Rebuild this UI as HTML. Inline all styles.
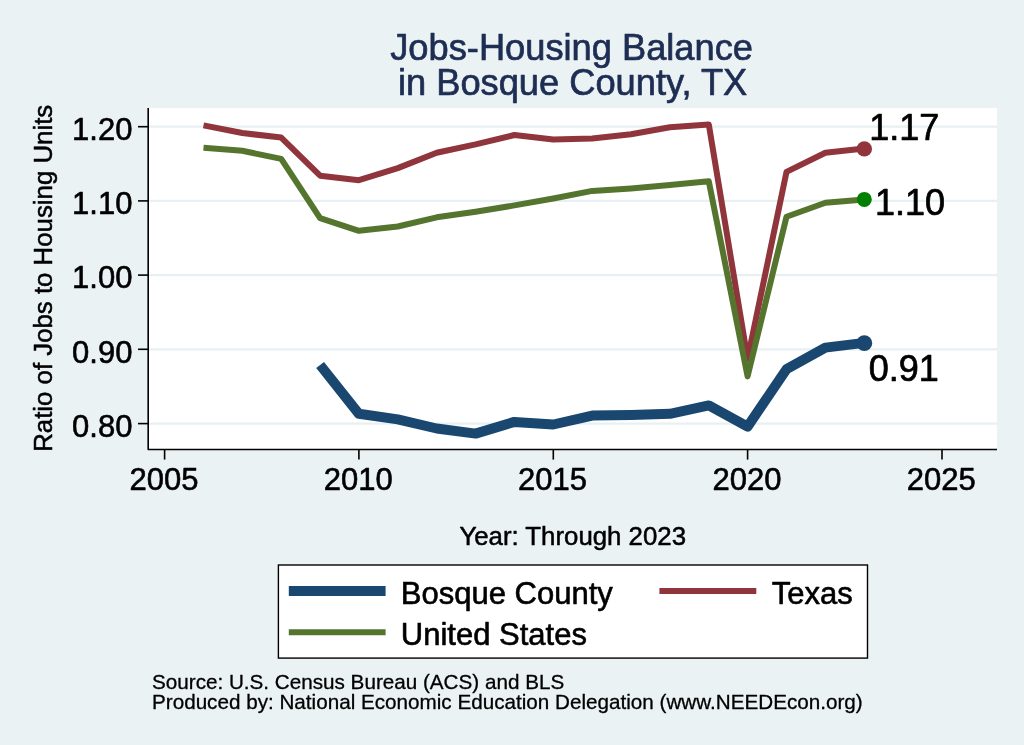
<!DOCTYPE html>
<html lang="en">
<head>
<meta charset="utf-8">
<title>Jobs-Housing Balance in Bosque County, TX</title>
<style>
html,body{margin:0;padding:0;background:#eaf2f3;}
body{width:1024px;height:745px;overflow:hidden;}
svg{display:block;}
text{font-family:"Liberation Sans",Arial,Helvetica,sans-serif;fill:#000;stroke:#000;stroke-width:0.7px;stroke-linejoin:round;}
.t{fill:#1e2d53;stroke:#1e2d53;font-size:36.25px;text-anchor:middle;}
.ax{font-size:31px;stroke-width:0.6px;}
.yl{text-anchor:end;}
.xl{text-anchor:middle;}
.at{font-size:25.8px;stroke-width:0.5px;text-anchor:middle;}
.ml{font-size:36px;}
.lg{font-size:31px;stroke-width:0.6px;}
.nt{font-size:20.66px;stroke-width:0.3px;}
</style>
</head>
<body>
<svg width="1024" height="745" viewBox="0 0 1024 745">
<rect x="0" y="0" width="1024" height="745" fill="#eaf2f3"/>
<!-- plot region -->
<rect x="148" y="108" width="849" height="342" fill="#ffffff"/>
<!-- gridlines -->
<g stroke="#e7f0f2" stroke-width="2.2">
<line x1="148" x2="997" y1="126.7" y2="126.7"/>
<line x1="148" x2="997" y1="200.9" y2="200.9"/>
<line x1="148" x2="997" y1="275.1" y2="275.1"/>
<line x1="148" x2="997" y1="349.3" y2="349.3"/>
<line x1="148" x2="997" y1="423.6" y2="423.6"/>
</g>
<!-- series -->
<g fill="none" stroke-linejoin="round">
<polyline id="bosque" stroke="#1a476f" stroke-width="10" points="320.1,365 358.9,413.8 397.8,419.4 436.7,428.5 475.6,433.6 514.4,421.9 553.3,424.5 592.2,415.6 631,415.1 669.9,413.8 708.8,405.4 747.6,426.6 786.5,369.2 825.4,347.6 864.3,342.9"/>
<polyline id="texas" stroke="#90353b" stroke-width="6" points="203.5,125.4 242.3,133 281.2,137.6 320.1,175.7 358.9,180.2 397.8,168.1 436.7,152.8 475.6,144.4 514.4,135 553.3,139.6 592.2,138.6 631,134.3 669.9,127.2 708.8,124.6 747.6,358.9 786.5,171.9 825.4,152.8 864.3,148.6"/>
<polyline id="us" stroke="#55752f" stroke-width="6" points="203.5,147.7 242.3,150.8 281.2,158.9 320.1,218.1 358.9,230.8 397.8,226.5 436.7,217.3 475.6,211.7 514.4,205.4 553.3,198.5 592.2,190.9 631,188.4 669.9,185.1 708.8,181.3 747.6,376.4 786.5,216.8 825.4,202.8 864.3,199.4"/>
</g>
<!-- markers -->
<circle cx="864.3" cy="343.2" r="7.9" fill="#1a476f"/>
<circle cx="864.3" cy="148.9" r="7.7" fill="#90353b"/>
<circle cx="864.3" cy="199.4" r="7.5" fill="#008000"/>
<text class="ml" x="868.8" y="381.4">0.91</text>
<text class="ml" x="869.2" y="139.7">1.17</text>
<text class="ml" x="874.9" y="214.6">1.10</text>
<!-- axes -->
<g stroke="#000" stroke-width="1.6" fill="none">
<path d="M148.2,108 V449.5 H997" stroke-linejoin="round"/>
<line x1="138" x2="148.2" y1="126.7" y2="126.7"/>
<line x1="138" x2="148.2" y1="200.9" y2="200.9"/>
<line x1="138" x2="148.2" y1="275.1" y2="275.1"/>
<line x1="138" x2="148.2" y1="349.3" y2="349.3"/>
<line x1="138" x2="148.2" y1="423.6" y2="423.6"/>
<line x1="164.6" x2="164.6" y1="449.5" y2="459.6"/>
<line x1="358.9" x2="358.9" y1="449.5" y2="459.6"/>
<line x1="553.3" x2="553.3" y1="449.5" y2="459.6"/>
<line x1="747.6" x2="747.6" y1="449.5" y2="459.6"/>
<line x1="942" x2="942" y1="449.5" y2="459.6"/>
</g>
<!-- y labels -->
<text class="ax yl" x="132.4" y="139.9">1.20</text>
<text class="ax yl" x="132.4" y="214.1">1.10</text>
<text class="ax yl" x="132.4" y="288.3">1.00</text>
<text class="ax yl" x="132.4" y="362.5">0.90</text>
<text class="ax yl" x="132.4" y="436.8">0.80</text>
<!-- x labels -->
<text class="ax xl" x="163.9" y="490">2005</text>
<text class="ax xl" x="358.2" y="490">2010</text>
<text class="ax xl" x="552.6" y="490">2015</text>
<text class="ax xl" x="746.9" y="490">2020</text>
<text class="ax xl" x="941.3" y="490">2025</text>
<!-- titles -->
<text class="t" x="571.6" y="60.2">Jobs-Housing Balance</text>
<text class="t" x="572.6" y="95.3">in Bosque County, TX</text>
<text class="at" x="572.7" y="544.6">Year: Through 2023</text>
<text class="at" transform="translate(52.0,278.3) rotate(-90)">Ratio of Jobs to Housing Units</text>
<!-- legend -->
<rect x="278.4" y="565" width="589.1" height="93.1" fill="#ffffff" stroke="#000" stroke-width="1.4"/>
<line x1="288.8" x2="385.6" y1="591.05" y2="591.05" stroke="#1a476f" stroke-width="10"/>
<line x1="659.4" x2="756.3" y1="591.05" y2="591.05" stroke="#90353b" stroke-width="6"/>
<line x1="288.8" x2="385.6" y1="632.3" y2="632.3" stroke="#55752f" stroke-width="6"/>
<text class="lg" x="400.8" y="603.6">Bosque County</text>
<text class="lg" x="771.7" y="603.6">Texas</text>
<text class="lg" x="400.8" y="644.9">United States</text>
<!-- notes -->
<text class="nt" x="152" y="688.9">Source: U.S. Census Bureau (ACS) and BLS</text>
<text class="nt" x="152" y="709">Produced by: National Economic Education Delegation (www.NEEDEcon.org)</text>
</svg>
</body>
</html>
